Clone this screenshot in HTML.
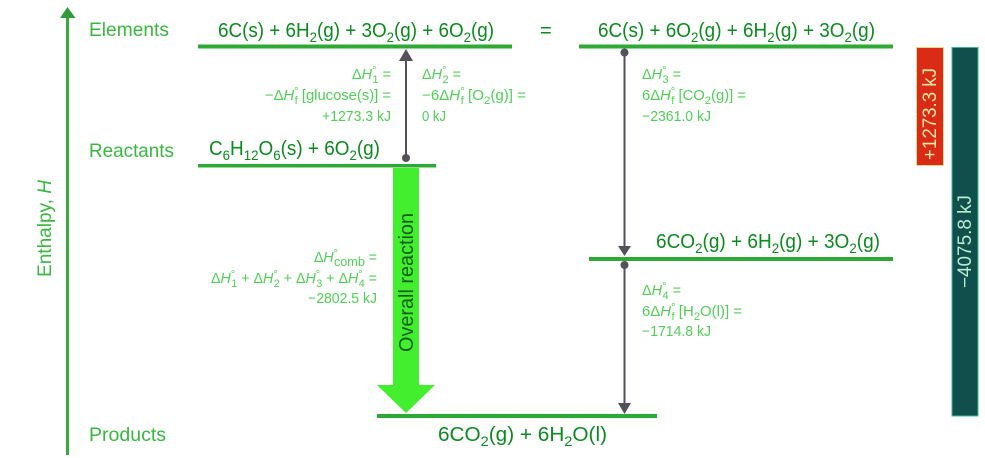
<!DOCTYPE html>
<html><head><meta charset="utf-8"><style>
html,body{margin:0;padding:0;background:#fff}
svg{display:block}
text{font-family:"Liberation Sans",sans-serif;white-space:pre}
.f{font-size:20px;fill:#0c8a1f}
.l{font-size:19.5px;fill:#38b83f}
.s{font-size:14.5px;fill:#4fcf55}
.i{font-style:italic}
</style></head><body>
<svg width="985" height="458" viewBox="0 0 985 458" xmlns="http://www.w3.org/2000/svg">
<!-- axis -->
<rect x="66" y="16" width="3" height="439" fill="#38ab3e"/>
<polygon points="67.5,7 75.5,18 60,18" fill="#2f9c38"/>
<text class="l" x="89" y="36" textLength="80" lengthAdjust="spacingAndGlyphs">Elements</text>
<text class="l" x="89" y="157" textLength="85" lengthAdjust="spacingAndGlyphs">Reactants</text>
<text class="l" x="89" y="441" textLength="77" lengthAdjust="spacingAndGlyphs">Products</text>
<text class="l" transform="translate(51,277) rotate(-90)" textLength="97" lengthAdjust="spacingAndGlyphs">Enthalpy, <tspan class="i">H</tspan></text>

<!-- levels -->
<g fill="#2eaa34">
<rect x="198" y="44.5" width="314" height="4"/>
<rect x="579" y="44.5" width="314" height="4"/>
<rect x="198" y="164" width="238" height="3.5"/>
<rect x="589" y="257" width="304" height="4"/>
<rect x="377" y="414" width="280" height="4"/>
</g>

<!-- equations -->
<g class="f">
<text class="f" x="218" y="37" textLength="276" lengthAdjust="spacingAndGlyphs">6C(s) + 6H<tspan dy="5" font-size="14">2</tspan><tspan dy="-5">(g) + 3O</tspan><tspan dy="5" font-size="14">2</tspan><tspan dy="-5">(g) + 6O</tspan><tspan dy="5" font-size="14">2</tspan><tspan dy="-5">(g)</tspan></text>
<text class="f" x="598" y="37" textLength="277" lengthAdjust="spacingAndGlyphs">6C(s) + 6O<tspan dy="5" font-size="14">2</tspan><tspan dy="-5">(g) + 6H</tspan><tspan dy="5" font-size="14">2</tspan><tspan dy="-5">(g) + 3O</tspan><tspan dy="5" font-size="14">2</tspan><tspan dy="-5">(g)</tspan></text>
<text class="f" x="540" y="37">=</text>
<text class="f" x="209" y="155" textLength="171" lengthAdjust="spacingAndGlyphs">C<tspan dy="5" font-size="14">6</tspan><tspan dy="-5">H</tspan><tspan dy="5" font-size="14">12</tspan><tspan dy="-5">O</tspan><tspan dy="5" font-size="14">6</tspan><tspan dy="-5">(s) + 6O</tspan><tspan dy="5" font-size="14">2</tspan><tspan dy="-5">(g)</tspan></text>
<text class="f" x="656" y="248" textLength="224" lengthAdjust="spacingAndGlyphs">6CO<tspan dy="5" font-size="14">2</tspan><tspan dy="-5">(g) + 6H</tspan><tspan dy="5" font-size="14">2</tspan><tspan dy="-5">(g) + 3O</tspan><tspan dy="5" font-size="14">2</tspan><tspan dy="-5">(g)</tspan></text>
<text class="f" x="438" y="441" textLength="169" lengthAdjust="spacingAndGlyphs">6CO<tspan dy="5" font-size="14">2</tspan><tspan dy="-5">(g) + 6H</tspan><tspan dy="5" font-size="14">2</tspan><tspan dy="-5">O(l)</tspan></text>
</g>

<!-- big arrow -->
<polygon points="393,168 419,168 419,385 435,385 406,413 377,385 393,385" fill="#43ee2e"/>
<text transform="translate(413,352) rotate(-90)" style="font-size:20px;fill:#0f5f16" textLength="139" lengthAdjust="spacingAndGlyphs">Overall reaction</text>

<!-- grey arrows -->
<g fill="#55505a">
<rect x="405" y="58" width="2" height="100"/>
<polygon points="406,49 413,61 399,61"/>
<circle cx="406" cy="158" r="4"/>
<rect x="623.5" y="52" width="2" height="196"/>
<circle cx="624.5" cy="52.5" r="4"/>
<polygon points="618,246 631,246 624.5,256"/>
<rect x="623.5" y="264" width="2" height="142"/>
<circle cx="624.5" cy="265" r="4"/>
<polygon points="618,403 631,403 624.5,414"/>
</g>

<!-- small labels -->
<g>
<text class="s" x="352" y="79" textLength="39" lengthAdjust="spacingAndGlyphs">Δ<tspan class="i">H</tspan><tspan dy="-5" font-size="11">°</tspan><tspan dx="-4" dy="9" font-size="11">1</tspan><tspan dy="-4"> =</tspan></text>
<text class="s" x="265" y="100" textLength="126" lengthAdjust="spacingAndGlyphs">−Δ<tspan class="i">H</tspan><tspan dy="-5" font-size="11">°</tspan><tspan dx="-4" dy="9" font-size="11">f</tspan><tspan dy="-4"> [glucose(s)] =</tspan></text>
<text class="s" x="322" y="121" textLength="69" lengthAdjust="spacingAndGlyphs">+1273.3 kJ</text>

<text class="s" x="422" y="79" textLength="39" lengthAdjust="spacingAndGlyphs">Δ<tspan class="i">H</tspan><tspan dy="-5" font-size="11">°</tspan><tspan dx="-4" dy="9" font-size="11">2</tspan><tspan dy="-4"> =</tspan></text>
<text class="s" x="422" y="100" textLength="104" lengthAdjust="spacingAndGlyphs">−6Δ<tspan class="i">H</tspan><tspan dy="-5" font-size="11">°</tspan><tspan dx="-4" dy="9" font-size="11">f</tspan><tspan dy="-4"> [O</tspan><tspan dy="4" font-size="11">2</tspan><tspan dy="-4">(g)] =</tspan></text>
<text class="s" x="422" y="121" textLength="24" lengthAdjust="spacingAndGlyphs">0 kJ</text>

<text class="s" x="642" y="79" textLength="39" lengthAdjust="spacingAndGlyphs">Δ<tspan class="i">H</tspan><tspan dy="-5" font-size="11">°</tspan><tspan dx="-4" dy="9" font-size="11">3</tspan><tspan dy="-4"> =</tspan></text>
<text class="s" x="642" y="100" textLength="104" lengthAdjust="spacingAndGlyphs">6Δ<tspan class="i">H</tspan><tspan dy="-5" font-size="11">°</tspan><tspan dx="-4" dy="9" font-size="11">f</tspan><tspan dy="-4"> [CO</tspan><tspan dy="4" font-size="11">2</tspan><tspan dy="-4">(g)] =</tspan></text>
<text class="s" x="642" y="121" textLength="69" lengthAdjust="spacingAndGlyphs">−2361.0 kJ</text>

<text class="s" x="642" y="295" textLength="39" lengthAdjust="spacingAndGlyphs">Δ<tspan class="i">H</tspan><tspan dy="-5" font-size="11">°</tspan><tspan dx="-4" dy="9" font-size="11">4</tspan><tspan dy="-4"> =</tspan></text>
<text class="s" x="642" y="316" textLength="100" lengthAdjust="spacingAndGlyphs">6Δ<tspan class="i">H</tspan><tspan dy="-5" font-size="11">°</tspan><tspan dx="-4" dy="9" font-size="11">f</tspan><tspan dy="-4"> [H</tspan><tspan dy="4" font-size="11">2</tspan><tspan dy="-4">O(l)] =</tspan></text>
<text class="s" x="642" y="336" textLength="69" lengthAdjust="spacingAndGlyphs">−1714.8 kJ</text>

<text class="s" x="314" y="262" textLength="63" lengthAdjust="spacingAndGlyphs">Δ<tspan class="i">H</tspan><tspan dy="-5" font-size="11">°</tspan><tspan dx="-4" dy="9" font-size="13">comb</tspan><tspan dy="-4"> =</tspan></text>
<text class="s" x="211" y="283" textLength="166" lengthAdjust="spacingAndGlyphs">Δ<tspan class="i">H</tspan><tspan dy="-5" font-size="11">°</tspan><tspan dx="-4" dy="9" font-size="11">1</tspan><tspan dy="-4"> + Δ</tspan><tspan class="i">H</tspan><tspan dy="-5" font-size="11">°</tspan><tspan dx="-4" dy="9" font-size="11">2</tspan><tspan dy="-4"> + Δ</tspan><tspan class="i">H</tspan><tspan dy="-5" font-size="11">°</tspan><tspan dx="-4" dy="9" font-size="11">3</tspan><tspan dy="-4"> + Δ</tspan><tspan class="i">H</tspan><tspan dy="-5" font-size="11">°</tspan><tspan dx="-4" dy="9" font-size="11">4</tspan><tspan dy="-4"> =</tspan></text>
<text class="s" x="308" y="303" textLength="69" lengthAdjust="spacingAndGlyphs">−2802.5 kJ</text>
</g>

<!-- side bars -->
<rect x="916.5" y="47.5" width="27" height="118" fill="#d92b16" stroke="#e3d98c" stroke-width="1"/>
<text transform="translate(936,160) rotate(-90)" style="font-size:19px;fill:#f3e7a4" textLength="92" lengthAdjust="spacingAndGlyphs">+1273.3 kJ</text>
<rect x="952" y="47.5" width="26" height="368.5" fill="#114f4d" stroke="#3fb98f" stroke-width="1"/>
<text transform="translate(971,288) rotate(-90)" style="font-size:19px;fill:#b8ecd2" textLength="93" lengthAdjust="spacingAndGlyphs">−4075.8 kJ</text>
</svg>
</body></html>
